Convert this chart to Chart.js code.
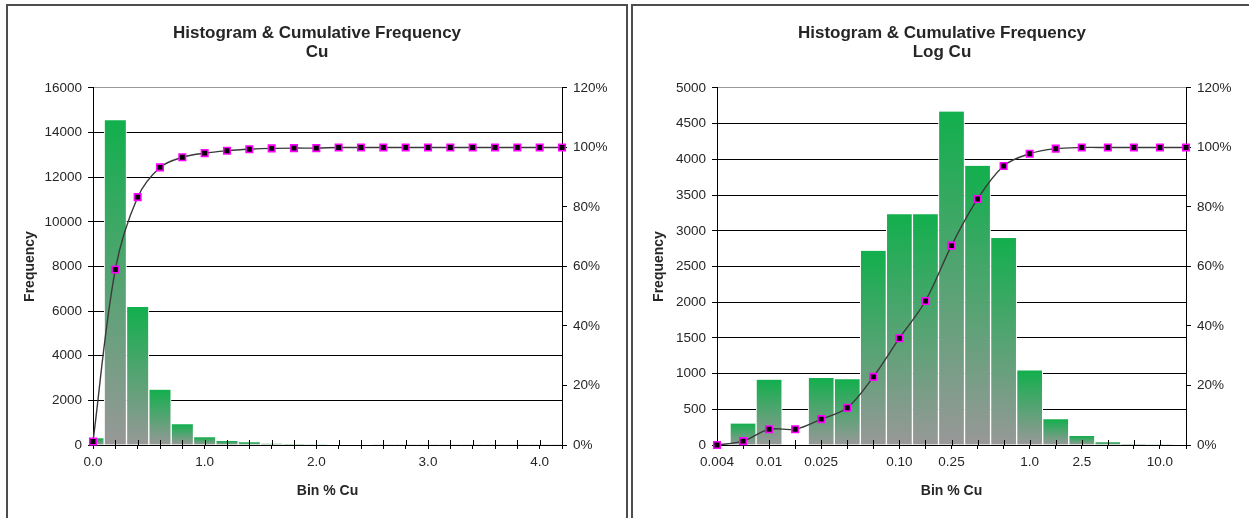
<!DOCTYPE html>
<html lang="en">
  <head>
    <meta charset="UTF-8">
    <script src="https://cdn.jsdelivr.net/npm/chart.js@4.4.1/dist/chart.umd.min.js"></script>
    <style>
      body {
        margin: 0;
        width: 1249px;
        height: 518px;
        overflow: hidden;
        background: #FFFFFF;
        position: relative;
        font-family: 'Liberation Sans', Arial, sans-serif;
      }
      .panel {
        position: absolute;
        top: 4px;
        width: 622px;
        height: 540px;
        border: 2px solid #4d4d4d;
        box-sizing: border-box;
      }
      #panelCu { left: 6px; }
      #panelLog { left: 631px; }
      canvas {
        position: absolute;
        top: 6px;
      }
      #cuChart { left: 8px; }
      #logChart { left: 633px; }
    </style>
  </head>
  <body>
    <div class="panel" id="panelCu"></div>
    <div class="panel" id="panelLog"></div>
    <canvas id="cuChart" width="618" height="512"></canvas>
    <canvas id="logChart" width="618" height="512"></canvas>

    <script>
      // Cu histogram (linear bins)
      const cuBins = ['0.0', '0.2', '0.4', '0.6', '0.8', '1.0', '1.2', '1.4', '1.6', '1.8', '2.0',
                      '2.2', '2.4', '2.6', '2.8', '3.0', '3.2', '3.4', '3.6', '3.8', '4.0', '4.2'];
      const cuShownLabels = ['0.0', '1.0', '2.0', '3.0', '4.0'];
      const cuFreq = [300, 14550, 6180, 2480, 930, 345, 180, 120, 60, 40, 30,
                      25, 20, 15, 12, 10, 10, 8, 8, 6, 6, 10];
      const cuCum = [1.2, 59, 83.3, 93.3, 96.7, 98.1, 98.9, 99.4, 99.7, 99.8, 99.8,
                     100, 100, 100, 100, 100, 100, 100, 100, 100, 100, 100];

      // Log Cu histogram (log bins)
      const logBins = ['0.004', '0.0063', '0.01', '0.016', '0.025', '0.04', '0.063', '0.10', '0.16', '0.25',
                       '0.4', '0.63', '1.0', '1.6', '2.5', '4.0', '6.3', '10.0', '16'];
      const logShownLabels = ['0.004', '0.01', '0.025', '0.10', '0.25', '1.0', '2.5', '10.0'];
      const logFreq = [0, 300, 915, 0, 940, 920, 2720, 3230, 3230, 4670,
                       3910, 2900, 1045, 360, 125, 40, 15, 10, 8];
      const logCum = [0, 1.3, 5.3, 5.3, 8.7, 12.5, 22.9, 35.9, 48.4, 67,
                      82.7, 93.8, 97.9, 99.6, 100, 100, 100, 100, 100];

      const TEXT = '#262626';
      const GREEN = '#12AF4D';
      const GREY = '#989898';

      Chart.defaults.font.family = "'Liberation Sans', Arial, sans-serif";
      Chart.defaults.color = TEXT;

      // each bar fades from green at its top to grey at the axis
      function barFill(context) {
        const chart = context.chart;
        if (!chart.chartArea || context.type !== 'data') return GREEN;
        const y = chart.scales.y;
        const top = y.getPixelForValue(context.raw);
        const bottom = y.getPixelForValue(0);
        if (!(bottom - top > 0.5)) return GREY;
        const g = chart.ctx.createLinearGradient(0, top, 0, bottom);
        g.addColorStop(0, GREEN);
        g.addColorStop(1, GREY);
        return g;
      }

      // tick marks poke up above the x axis as well
      const crossTicks = {
        id: 'crossTicks',
        afterDatasetDraw(chart, args) {
          if (args.index !== 1) return;
          const x = chart.scales.x;
          const ctx = chart.ctx;
          const y0 = chart.chartArea.bottom;
          ctx.save();
          ctx.strokeStyle = '#000';
          ctx.lineWidth = 1;
          ctx.beginPath();
          x.ticks.forEach((t, i) => {
            const px = Math.round(x.getPixelForTick(i)) + 0.5;
            ctx.moveTo(px, y0 - 5);
            ctx.lineTo(px, y0);
          });
          ctx.stroke();
          ctx.restore();
        }
      };

      function makeChart(id, bins, shown, freq, cum, yMax, yStep, subtitle, yWidth, y1Width, yTitlePad) {
        return new Chart(document.getElementById(id), {
          type: 'bar',
          data: {
            labels: bins,
            datasets: [{
              type: 'line',
              data: cum,
              yAxisID: 'y1',
              borderColor: '#3a3a3a',
              borderWidth: 1.4,
              tension: 0.35,
              pointStyle: 'rect',
              pointRadius: 4.6,
              pointBackgroundColor: '#000000',
              pointBorderColor: '#FF00FF',
              pointBorderWidth: 1.6,
              clip: false
            }, {
              type: 'bar',
              data: freq,
              yAxisID: 'y',
              backgroundColor: barFill,
              borderColor: '#FFFFFF',
              borderWidth: { left: 1, right: 1, top: 0, bottom: 0 },
              categoryPercentage: 1,
              barPercentage: 1,
              clip: 0
            }]
          },
          options: {
            responsive: false,
            animation: false,
            plugins: {
              legend: { display: false },
              tooltip: { enabled: false },
              title: {
                display: true,
                text: ['Histogram & Cumulative Frequency', subtitle],
                color: TEXT,
                font: { size: 17, weight: 'bold', lineHeight: 1.12 },
                padding: { top: 18, bottom: 25.9 }
              }
            },
            scales: {
              x: {
                type: 'category',
                offset: false,
                grid: { offset: false, drawOnChartArea: false, color: '#000', tickLength: 4 },
                border: { color: '#000' },
                ticks: {
                  autoSkip: false,
                  maxRotation: 0,
                  padding: 5,
                  font: { size: 13.5 },
                  callback(v) {
                    const l = this.getLabelForValue(v);
                    return shown.includes(l) ? l : '';
                  }
                },
                title: {
                  display: true,
                  text: 'Bin % Cu',
                  font: { size: 14, weight: 'bold' },
                  padding: { top: 0, bottom: 18.6 }
                },
                afterFit(s) { s.height = 73; }
              },
              y: {
                position: 'left',
                min: 0,
                max: yMax,
                ticks: { stepSize: yStep, padding: 6, font: { size: 13.5 }, callback: v => String(v) },
                grid: {
                  color: c => (c.tick && c.tick.value === yMax) ? '#9a9a9a' : '#000',
                  tickColor: '#000',
                  tickLength: 5
                },
                border: { color: '#000' },
                title: {
                  display: true,
                  text: 'Frequency',
                  font: { size: 14, weight: 'bold' },
                  padding: { top: yTitlePad, bottom: 0 }
                },
                afterFit(s) { s.width = yWidth; }
              },
              y1: {
                position: 'right',
                min: 0,
                max: 120,
                ticks: { stepSize: 20, padding: 6, font: { size: 13.5 }, callback: v => v + '%' },
                grid: { drawOnChartArea: false, color: '#000', tickLength: 5 },
                border: { color: '#000' },
                afterFit(s) { s.width = y1Width; }
              }
            }
          },
          plugins: [crossTicks]
        });
      }

      makeChart('cuChart', cuBins, cuShownLabels, cuFreq, cuCum, 16000, 2000, 'Cu', 85, 64, 13.6);
      makeChart('logChart', logBins, logShownLabels, logFreq, logCum, 5000, 500, 'Log Cu', 84, 65, 17.6);
    </script>
  </body>
</html>
